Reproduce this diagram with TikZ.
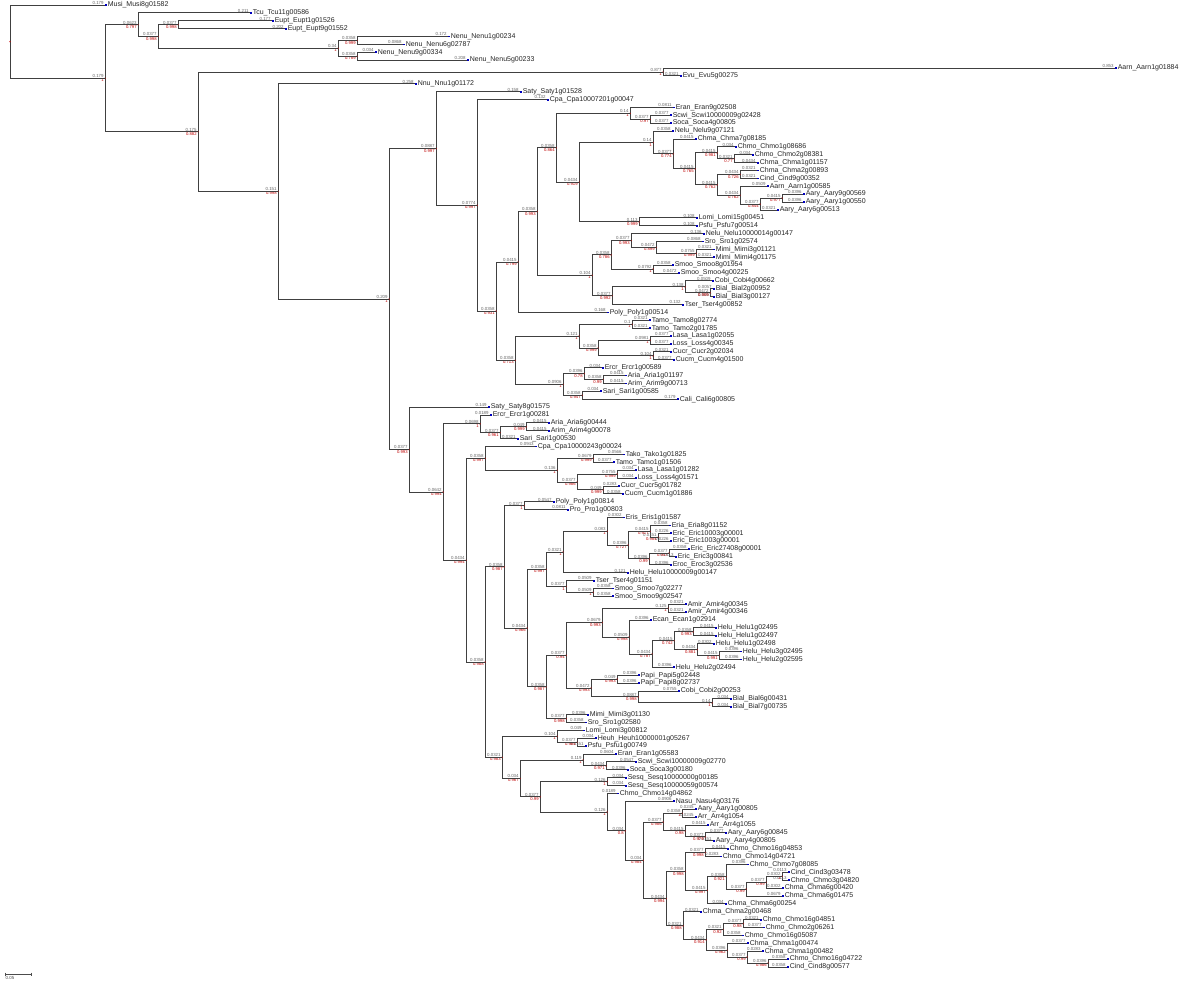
\documentclass[tikz,border=0pt]{standalone}
\usepackage{fontspec}
\setmainfont{Liberation Sans}
\usetikzlibrary{calc}
\newcommand\leaffont{\fontsize{7}{7}\selectfont}
\newcommand\blfont{\fontsize{4.4}{4.4}\selectfont}
\newcommand\supfont{\fontsize{4.2}{4.2}\selectfont}
\pgfkeys{/pgf/number format/.cd, assume math mode=true}
\tikzset{
  branch/.style={draw=black!75, line width=0.95pt},
  leaflab/.style={anchor=west, inner sep=0pt, xshift=2.6pt, font=\leaffont, text=black!85},
  bl/.style={anchor=south east, inner sep=0.4pt, xshift=-0.8pt, font=\blfont, text=black!60},
  sup/.style={anchor=north east, inner sep=0.4pt, xshift=-0.8pt, font=\supfont, text=red!75!black},
  tipc/.style={fill=blue!75!black},
  scalebar/.style={draw=black!70, line width=0.6pt}
}
\newcommand\blab[2]{\pgfmathsetmacro\tmpv{(#1-#2)/530}\ifdim\tmpv pt<0.1pt \pgfmathprintnumber[fixed,precision=4,assume math mode=true]{\tmpv}\else\pgfmathprintnumber[fixed,precision=3,assume math mode=true]{\tmpv}\fi}
\newcommand\leaf[4]{%
  \pgfmathsetmacro\ly{5+(#2-1)*7.885}%
  \coordinate (#1) at (#3,\ly);
  \expandafter\xdef\csname xp#1\endcsname{#3}%
  \fill[tipc] ($(#1)+(0,-0.9)$) rectangle ++(2,1.8);
  \node[leaflab] (#1t) at (#1) {#4};
}
\newcommand\tn[5]{%
  \path ($(#3)!0.5!(#4)$) coordinate (#1-m);
  \coordinate (#1-x) at (#2,0);
  \coordinate (#1) at (#1-x |- #1-m);
  \expandafter\xdef\csname xp#1\endcsname{#2}%
  \draw[branch] (#1) |- (#3);
  \draw[branch] (#1) |- (#4);
  \node[bl] at (#3) {\blab{\csname xp#3\endcsname}{#2}};
  \node[bl] at (#4) {\blab{\csname xp#4\endcsname}{#2}};
  \fill[red!80!black] (#1) circle (0.7);
  \node[sup] at (#1) {#5};
}
\begin{document}
\begin{tikzpicture}[x=1pt,y=-1pt]
\fill[white] (0,0) rectangle (1200,984);
\path[use as bounding box] (0,0) rectangle (1200,984);
% ---------------- leaves ----------------
\leaf{l1}{1}{105}{Musi\_Musi8g01582}
\leaf{l2}{2}{250}{Tcu\_Tcu11g00586}
\leaf{l3}{3}{272}{Eupt\_Eupt1g01526}
\leaf{l4}{4}{285}{Eupt\_Eupt9g01552}
\leaf{l5}{5}{448}{Nenu\_Nenu1g00234}
\leaf{l6}{6}{403}{Nenu\_Nenu6g02787}
\leaf{l7}{7}{375}{Nenu\_Nenu9g00334}
\leaf{l8}{8}{467}{Nenu\_Nenu5g00233}
\leaf{l9}{9}{1115}{Aarn\_Aarn1g01884}
\leaf{l10}{10}{680}{Evu\_Evu5g00275}
\leaf{l11}{11}{415}{Nnu\_Nnu1g01172}
\leaf{l12}{12}{520}{Saty\_Saty1g01528}
\leaf{l13}{13}{547}{Cpa\_Cpa10007201g00047}
\leaf{l14}{14}{673}{Eran\_Eran9g02508}
\leaf{l15}{15}{670}{Scwi\_Scwi10000009g02428}
\leaf{l16}{16}{670}{Soca\_Soca4g00805}
\leaf{l17}{17}{672}{Nelu\_Nelu9g07121}
\leaf{l18}{18}{695}{Chma\_Chma7g08185}
\leaf{l19}{19}{735}{Chmo\_Chmo1g08686}
\leaf{l20}{20}{752}{Chmo\_Chmo2g08381}
\leaf{l21}{21}{757}{Chma\_Chma1g01157}
\leaf{l22}{22}{757}{Chma\_Chma2g00893}
\leaf{l23}{23}{757}{Cind\_Cind9g00352}
\leaf{l24}{24}{767}{Aarn\_Aarn1g00585}
\leaf{l25}{25}{803}{Aary\_Aary9g00569}
\leaf{l26}{26}{803}{Aary\_Aary1g00550}
\leaf{l27}{27}{777}{Aary\_Aary6g00513}
\leaf{l28}{28}{696}{Lomi\_Lomi15g00451}
\leaf{l29}{29}{696}{Psfu\_Psfu7g00514}
\leaf{l30}{30}{703}{Nelu\_Nelu10000014g00147}
\leaf{l31}{31}{702}{Sro\_Sro1g02574}
\leaf{l32}{32}{713}{Mimi\_Mimi3g01121}
\leaf{l33}{33}{713}{Mimi\_Mimi4g01175}
\leaf{l34}{34}{672}{Smoo\_Smoo8g01954}
\leaf{l35}{35}{678}{Smoo\_Smoo4g00225}
\leaf{l36}{36}{712}{Cobi\_Cobi4g00662}
\leaf{l37}{37}{713}{Bial\_Bial2g00952}
\leaf{l38}{38}{713}{Bial\_Bial3g00127}
\leaf{l39}{39}{682}{Tser\_Tser4g00852}
\leaf{l40}{40}{607}{Poly\_Poly1g00514}
\leaf{l41}{41}{649}{Tamo\_Tamo8g02774}
\leaf{l42}{42}{649}{Tamo\_Tamo2g01785}
\leaf{l43}{43}{670}{Lasa\_Lasa1g02055}
\leaf{l44}{44}{670}{Loss\_Loss4g00345}
\leaf{l45}{45}{670}{Cucr\_Cucr2g02034}
\leaf{l46}{46}{673}{Cucm\_Cucm4g01500}
\leaf{l47}{47}{602}{Ercr\_Ercr1g00589}
\leaf{l48}{48}{625}{Aria\_Aria1g01197}
\leaf{l49}{49}{625}{Arim\_Arim9g00713}
\leaf{l50}{50}{600}{Sari\_Sari1g00585}
\leaf{l51}{51}{677}{Cali\_Cali6g00805}
\leaf{l52}{52}{488}{Saty\_Saty8g01575}
\leaf{l53}{53}{490}{Ercr\_Ercr1g00281}
\leaf{l54}{54}{548}{Aria\_Aria6g00444}
\leaf{l55}{55}{548}{Arim\_Arim4g00078}
\leaf{l56}{56}{517}{Sari\_Sari1g00530}
\leaf{l57}{57}{535}{Cpa\_Cpa10000243g00024}
\leaf{l58}{58}{623}{Tako\_Tako1g01825}
\leaf{l59}{59}{613}{Tamo\_Tamo1g01506}
\leaf{l60}{60}{635}{Lasa\_Lasa1g01282}
\leaf{l61}{61}{635}{Loss\_Loss4g01571}
\leaf{l62}{62}{618}{Cucr\_Cucr5g01782}
\leaf{l63}{63}{622}{Cucm\_Cucm1g01886}
\leaf{l64}{64}{553}{Poly\_Poly1g00814}
\leaf{l65}{65}{567}{Pro\_Pro1g00803}
\leaf{l66}{66}{623}{Eris\_Eris1g01587}
\leaf{l67}{67}{669}{Eria\_Eria8g01152}
\leaf{l68}{68}{670}{Eric\_Eric10003g00001}
\leaf{l69}{69}{670}{Eric\_Eric1003g00001}
\leaf{l70}{70}{688}{Eric\_Eric27408g00001}
\leaf{l71}{71}{675}{Eric\_Eric3g00841}
\leaf{l72}{72}{670}{Eroc\_Eroc3g02536}
\leaf{l73}{73}{627}{Helu\_Helu10000009g00147}
\leaf{l74}{74}{593}{Tser\_Tser4g01151}
\leaf{l75}{75}{612}{Smoo\_Smoo7g02277}
\leaf{l76}{76}{612}{Smoo\_Smoo9g02547}
\leaf{l77}{77}{685}{Amir\_Amir4g00345}
\leaf{l78}{78}{685}{Amir\_Amir4g00346}
\leaf{l79}{79}{650}{Ecan\_Ecan1g02914}
\leaf{l80}{80}{715}{Helu\_Helu1g02495}
\leaf{l81}{81}{715}{Helu\_Helu1g02497}
\leaf{l82}{82}{713}{Helu\_Helu1g02498}
\leaf{l83}{83}{740}{Helu\_Helu3g02495}
\leaf{l84}{84}{740}{Helu\_Helu2g02595}
\leaf{l85}{85}{673}{Helu\_Helu2g02494}
\leaf{l86}{86}{638}{Papi\_Papi5g02448}
\leaf{l87}{87}{638}{Papi\_Papi8g02737}
\leaf{l88}{88}{678}{Cobi\_Cobi2g00253}
\leaf{l89}{89}{730}{Bial\_Bial6g00431}
\leaf{l90}{90}{730}{Bial\_Bial7g00735}
\leaf{l91}{91}{587}{Mimi\_Mimi3g01130}
\leaf{l92}{92}{585}{Sro\_Sro1g02580}
\leaf{l93}{93}{583}{Lomi\_Lomi3g00812}
\leaf{l94}{94}{595}{Heuh\_Heuh10000001g05267}
\leaf{l95}{95}{585}{Psfu\_Psfu1g00749}
\leaf{l96}{96}{615}{Eran\_Eran1g05583}
\leaf{l97}{97}{635}{Scwi\_Scwi10000009g02770}
\leaf{l98}{98}{627}{Soca\_Soca3g00180}
\leaf{l99}{99}{625}{Sesq\_Sesq10000000g00185}
\leaf{l100}{100}{625}{Sesq\_Sesq10000059g00574}
\leaf{l101}{101}{617}{Chmo\_Chmo14g04862}
\leaf{l102}{102}{673}{Nasu\_Nasu4g03176}
\leaf{l103}{103}{695}{Aary\_Aary1g00805}
\leaf{l104}{104}{695}{Arr\_Arr4g1054}
\leaf{l105}{105}{707}{Arr\_Arr4g1055}
\leaf{l106}{106}{725}{Aary\_Aary6g00845}
\leaf{l107}{107}{713}{Aary\_Aary4g00805}
\leaf{l108}{108}{727}{Chmo\_Chmo16g04853}
\leaf{l109}{109}{720}{Chmo\_Chmo14g04721}
\leaf{l110}{110}{747}{Chmo\_Chmo7g08085}
\leaf{l111}{111}{788}{Cind\_Cind3g03478}
\leaf{l112}{112}{788}{Chmo\_Chmo3g04820}
\leaf{l113}{113}{782}{Chma\_Chma6g00420}
\leaf{l114}{114}{782}{Chma\_Chma6g01475}
\leaf{l115}{115}{725}{Chma\_Chma6g00254}
\leaf{l116}{116}{700}{Chma\_Chma2g00468}
\leaf{l117}{117}{760}{Chmo\_Chmo16g04851}
\leaf{l118}{118}{763}{Chmo\_Chmo2g06261}
\leaf{l119}{119}{742}{Chmo\_Chmo16g05087}
\leaf{l120}{120}{747}{Chma\_Chma1g00474}
\leaf{l121}{121}{762}{Chma\_Chma1g00482}
\leaf{l122}{122}{787}{Chmo\_Chmo16g04722}
\leaf{l123}{123}{787}{Cind\_Cind8g00577}
% ---------------- internal nodes ----------------
\tn{nE}{178}{l3}{l4}{0.998}
\tn{nG}{357}{l5}{l6}{0.999}
\tn{nH}{357}{l7}{l8}{0.789}
\tn{nF}{338}{nG}{nH}{1}
\tn{nD}{158}{nE}{nF}{0.998}
\tn{nB}{138}{l2}{nD}{0.797}
\tn{nI}{663}{l9}{l10}{1}
\tn{nUb}{650}{l15}{l16}{0.97}
\tn{nU}{630}{l14}{nUb}{1}
\tn{nZ3}{734}{l20}{l21}{0.77}
\tn{nZ1}{717}{l19}{nZ3}{0.981}
\tn{nZ2a}{740}{l22}{l23}{0.726}
\tn{nZ2d}{782}{l25}{l26}{0.977}
\tn{nZ2c}{760}{nZ2d}{l27}{0.844}
\tn{nZ2b}{740}{l24}{nZ2c}{0.762}
\tn{nZ2}{717}{nZ2a}{nZ2b}{0.762}
\tn{nZ}{695}{nZ1}{nZ2}{0.765}
\tn{nY}{673}{l18}{nZ}{0.774}
\tn{nW}{653}{l17}{nY}{1}
\tn{nX}{639}{l28}{l29}{0.999}
\tn{nV}{579}{nW}{nX}{0.919}
\tn{nS}{556}{nU}{nV}{0.864}
\tn{nMimi}{696}{l32}{l33}{0.999}
\tn{nSM}{656}{l31}{nMimi}{0.899}
\tn{nTa}{631}{l30}{nSM}{0.993}
\tn{nTb}{653}{l34}{l35}{1}
\tn{nTo}{611}{nTa}{nTb}{0.786}
\tn{nBial}{710}{l37}{l38}{0.989}
\tn{nCB}{685}{l36}{nBial}{1}
\tn{nTt}{612}{nCB}{l39}{0.992}
\tn{nT}{592}{nTo}{nTt}{1}
\tn{nR}{537}{nS}{nT}{0.993}
\tn{nP}{518}{nR}{l40}{0.799}
\tn{nTamo}{632}{l41}{l42}{1}
\tn{nLasa}{650}{l43}{l44}{1}
\tn{nCucs}{653}{l45}{l46}{1}
\tn{nLC}{598}{nLasa}{nCucs}{0.999}
\tn{nQa}{579}{nTamo}{nLC}{1}
\tn{nAria}{603}{l48}{l49}{0.99}
\tn{nQc}{584}{l47}{nAria}{0.78}
\tn{nQd}{582}{l50}{l51}{0.947}
\tn{nQb}{563}{nQc}{nQd}{1}
\tn{nQ}{515}{nQa}{nQb}{0.713}
\tn{nO}{496}{nP}{nQ}{0.931}
\tn{nN}{477}{l13}{nO}{0.997}
\tn{nL}{436}{l12}{nN}{0.997}
\tn{nAriaB}{526}{l54}{l55}{0.999}
\tn{nAS}{500}{nAriaB}{l56}{0.961}
\tn{nMc}{480}{l53}{nAS}{1}
\tn{nTako}{593}{l58}{l59}{0.999}
\tn{nLasaB}{617}{l60}{l61}{0.999}
\tn{nCucsB}{603}{l62}{l63}{0.999}
\tn{nLCB}{577}{nLasaB}{nCucsB}{0.986}
\tn{nMf}{557}{nTako}{nLCB}{1}
\tn{nMe}{485}{l57}{nMf}{0.997}
\tn{nMh}{524}{l64}{l65}{1}
\tn{nEe}{658}{l68}{l69}{0.984}
\tn{nEc}{650}{l67}{nEe}{0.917}
\tn{nEf}{669}{l70}{l71}{0.947}
\tn{nEd}{649}{nEf}{l72}{0.99}
\tn{nEb}{628}{nEc}{nEd}{0.727}
\tn{nEa}{607}{l66}{nEb}{1}
\tn{nEz}{563}{nEa}{l73}{1}
\tn{nSmoo}{593}{l75}{l76}{1}
\tn{nSmT}{566}{l74}{nSmoo}{1}
\tn{nEy}{546}{nEz}{nSmT}{0.997}
\tn{nGa}{668}{l77}{l78}{1}
\tn{nHab}{693}{l80}{l81}{0.993}
\tn{nHde}{719}{l83}{l84}{0.991}
\tn{nHc}{697}{l82}{nHde}{0.881}
\tn{nGc}{674}{nHab}{nHc}{0.742}
\tn{nGb}{652}{nGc}{l85}{0.787}
\tn{nGab}{629}{l79}{nGb}{0.998}
\tn{nGo}{602}{nGa}{nGab}{0.993}
\tn{nPapi}{617}{l86}{l87}{0.993}
\tn{nBialB}{712}{l89}{l90}{1}
\tn{nCoBi}{638}{l88}{nBialB}{0.998}
\tn{nGd}{591}{nPapi}{nCoBi}{0.993}
\tn{nGz}{566}{nGo}{nGd}{0.94}
\tn{nMS}{566}{l91}{l92}{0.998}
\tn{nMk}{546}{nGz}{nMS}{0.987}
\tn{nMj}{527}{nEy}{nMk}{0.966}
\tn{nMg}{504}{nMh}{nMj}{0.987}
\tn{nHP}{577}{l94}{l95}{0.964}
\tn{nLomi}{557}{l93}{nHP}{1}
\tn{nSS}{606}{l97}{l98}{0.971}
\tn{nES}{583}{l96}{nSS}{1}
\tn{nSesq}{607}{l99}{l100}{1}
\tn{nAa}{682}{l103}{l104}{1}
\tn{nAc}{705}{l106}{l107}{0.979}
\tn{nAb}{685}{l105}{nAc}{0.98}
\tn{nNA}{663}{nAa}{nAb}{0.986}
\tn{nCh}{705}{l108}{l109}{0.998}
\tn{nCi}{782}{l111}{l112}{1}
\tn{nCj}{766}{nCi}{l113}{0.99}
\tn{nCk}{746}{nCj}{l114}{0.99}
\tn{nCl}{726}{l110}{nCk}{0.921}
\tn{nCm}{707}{nCl}{l115}{0.997}
\tn{nNC}{685}{nCh}{nCm}{0.998}
\tn{nCq}{743}{l117}{l118}{0.98}
\tn{nCp}{723}{nCq}{l119}{0.92}
\tn{nCt}{768}{l122}{l123}{0.986}
\tn{nCs}{747}{l121}{nCt}{0.99}
\tn{nCr}{727}{l120}{nCs}{0.962}
\tn{nCo}{706}{nCp}{nCr}{0.914}
\tn{nND}{683}{l116}{nCo}{0.988}
\tn{nNB}{666}{nNC}{nND}{0.994}
\tn{nNX}{643}{nNA}{nNB}{0.984}
\tn{nPd}{625}{l102}{nNX}{0.8}
\tn{nPc}{607}{l101}{nPd}{1}
\tn{nPb}{540}{nSesq}{nPc}{0.99}
\tn{nPa}{520}{nES}{nPb}{0.967}
\tn{nMi}{502}{nLomi}{nPa}{0.983}
\tn{nMg2}{485}{nMg}{nMi}{0.988}
\tn{nMd}{466}{nMe}{nMg2}{0.994}
\tn{nMb}{443}{nMc}{nMd}{0.994}
\tn{nM}{409}{l52}{nMb}{0.993}
\tn{nK}{389}{nL}{nM}{1}
\tn{nJ}{278}{l11}{nK}{0.998}
\tn{nC}{198}{nI}{nJ}{0.882}
\tn{nA}{105}{nB}{nC}{1}
\tn{root}{10}{l1}{nA}{}
% ---------------- scale bar ----------------
\coordinate (sbA) at (5,974);
\coordinate (sbB) at (31.5,974);
\draw[scalebar] (sbA) -- (sbB);
\draw[scalebar] ($(sbA)+(0,-1.5)$) -- ($(sbA)+(0,1.5)$);
\draw[scalebar] ($(sbB)+(0,-1.5)$) -- ($(sbB)+(0,1.5)$);
\node[anchor=north west, inner sep=0.5pt, font=\blfont, text=black!70] (sbT) at ($(sbA)+(0,1.5)$) {0.05};
\end{tikzpicture}
\end{document}
